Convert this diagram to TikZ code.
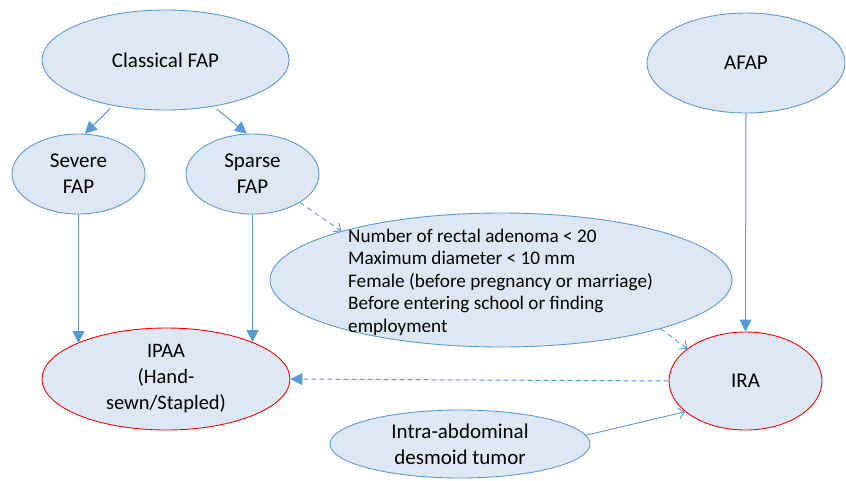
\documentclass[tikz,border=0pt]{standalone}
\usepackage{fontspec}
\setmainfont{Carlito}
\usetikzlibrary{shapes.geometric,arrows.meta}
\definecolor{efill}{HTML}{DEE8F4}
\definecolor{eline}{HTML}{5B9BD5}
\definecolor{ered}{HTML}{FF0000}
\tikzset{
  oval/.style={ellipse,draw=eline,fill=efill,line width=0.9pt,inner sep=0pt,align=center,
    font=\fontsize{21}{26}\selectfont},
  redoval/.style={oval,draw=ered},
  solidarr/.style={draw=eline,line width=1pt,-{Triangle[length=12pt,width=12pt]}},
  openarr/.style={draw=eline,line width=0.9pt,-{Straight Barb[length=6pt,width=11pt]}},
  dasharr/.style={draw=eline,line width=0.9pt,dash pattern=on 5pt off 4pt,-{Straight Barb[length=6pt,width=11pt]}},
  dashfill/.style={draw=eline,line width=1pt,dash pattern=on 5pt off 3pt,-{Triangle[length=12pt,width=12pt]}}
}
\begin{document}
\begin{tikzpicture}[x=1pt,y=-1pt]
\useasboundingbox (0,0) rectangle (846,480);
\node[oval,minimum width=247pt,minimum height=100pt] (cfap) at (165.5,60) {Classical FAP};
\node[oval,minimum width=133pt,minimum height=80pt] (severe) at (78.5,174) {Severe\\FAP};
\node[oval,minimum width=133pt,minimum height=80pt] (sparse) at (252.5,174) {Sparse\\FAP};
\node[oval,minimum width=198pt,minimum height=100pt] (afap) at (746,63) {AFAP};
\node[oval,minimum width=462pt,minimum height=134pt] (crit) at (501,280) {};
\node[anchor=west,align=left,inner sep=0pt,font=\fontsize{19.2}{22.5}\selectfont] (crittext) at (348,282)
  {Number of rectal adenoma < 20\\Maximum diameter < 10 mm\\Female (before pregnancy or marriage)\\Before entering school or finding\\employment};
\node[redoval,minimum width=248pt,minimum height=102pt,font=\fontsize{20.5}{26}\selectfont] (ipaa) at (166,379) {IPAA\\(Hand-\\sewn/Stapled)};
\node[redoval,minimum width=153pt,minimum height=98pt] (ira) at (745.5,381) {IRA};
\node[oval,minimum width=260pt,minimum height=68pt] (desm) at (460,444) {Intra-abdominal\\desmoid tumor};

\draw[solidarr,shorten <=4pt] (cfap.221) -- (severe.81);
\draw[solidarr,shorten <=4pt] (cfap.316) -- (sparse.98);
\draw[solidarr] (severe.south) -- (severe.south |- ipaa.158);
\draw[solidarr] (sparse.south) -- (sparse.south |- ipaa.23);
\draw[solidarr] (afap.south) -- (ira.north);
\draw[dasharr] (sparse.329) -- (crit.163);
\draw[dasharr] (crit.343) -- (ira.151);
\draw[dashfill] (ira.west) -- (ipaa.east);
\draw[openarr] (desm.4) -- (ira.207);
\end{tikzpicture}
\end{document}
